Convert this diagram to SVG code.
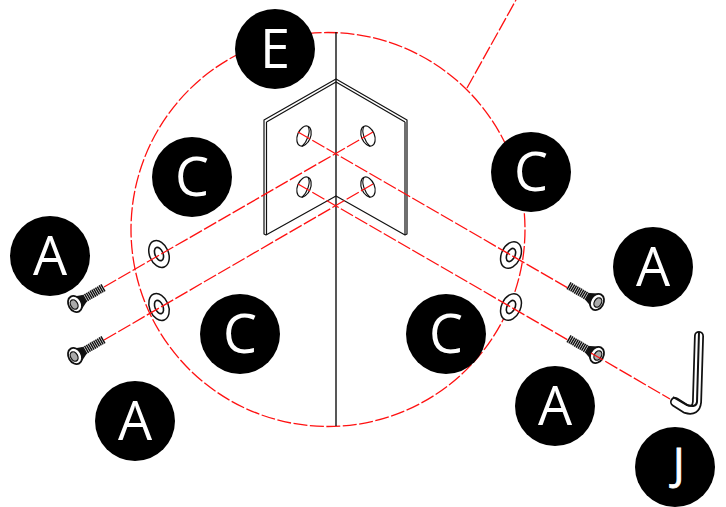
<svg xmlns="http://www.w3.org/2000/svg" width="726" height="507" viewBox="0 0 726 507">
<style>
.r{fill:none;stroke:#f11;stroke-width:1.300;stroke-dasharray:14 2.500}
.k{fill:none;stroke:#111;stroke-width:1.200;stroke-linejoin:round}
.b{fill:#000}
.t{fill:#fff;font-family:"Open Sans",sans-serif;font-size:54px;text-anchor:middle}
.j{font-size:43px;text-anchor:start;stroke:#fff;stroke-width:.8}
</style>
<defs>
<g id="screw">
<line x1="-33" y1="0" x2="-8" y2="0" stroke="#111" stroke-width="8" stroke-dasharray="1.500 .6"/>
<path d="M-11 -4 L-3 -8 L0 8 L-11 4Z" fill="#111"/>
<ellipse cx="0" cy="0" rx="6.500" ry="8.500" fill="#fff" stroke="#111" stroke-width="1.800"/>
<ellipse cx="1" cy="0" rx="3.500" ry="5" fill="#aaa" stroke="#111" stroke-width="1.300"/>
</g>
<g id="washer">
<ellipse rx="9.500" ry="14" fill="#fff" stroke="#111" stroke-width="1.500"/>
<ellipse rx="4" ry="7" fill="#fff" stroke="#111" stroke-width="1.600"/>
</g>
<g id="hole">
<ellipse rx="6.500" ry="10.500" fill="#fff" stroke="#111" stroke-width="1.200"/>
<path d="M0 -10.500 C5 -7 5 4 2 10.500" fill="none" stroke="#111" stroke-width="1.100"/>
</g>
</defs>
<g id="detail-circle">
<circle cx="328" cy="229.500" r="197" class="r" stroke-dasharray="12 2.500"/>
<line x1="467" y1="88" x2="516" y2="0" class="r"/>
<line x1="336" y1="32" x2="336" y2="426" stroke="#111" stroke-width="1.400"/>
</g>
<g id="bracket">
<path class="k" fill="#fff" d="M264 120 L336 79 L407 120 L407 234 L405 235 L336 196 L266 235 L264 234 Z"/>
<path class="k" d="M266.500 122 L336 82 L405 122 M266.500 122 V235 M405 122 V235"/>
<use href="#hole" transform="translate(304 136) rotate(22)"/>
<use href="#hole" transform="translate(304 187) rotate(22)"/>
<use href="#hole" transform="translate(368 136) rotate(-22) scale(-1 1)"/>
<use href="#hole" transform="translate(368 187) rotate(-22) scale(-1 1)"/>
</g>
<g id="washers">
<use href="#washer" transform="translate(159 254) rotate(-22)"/>
<use href="#washer" transform="translate(159 307) rotate(-22)"/>
<use href="#washer" transform="translate(511 255) rotate(25)"/>
<use href="#washer" transform="translate(511 307) rotate(25)"/>
</g>
<g id="screws">
<use href="#screw" transform="translate(75 304) rotate(150)"/>
<use href="#screw" transform="translate(75 356) rotate(150)"/>
<use href="#screw" transform="translate(597 302) rotate(30)"/>
<use href="#screw" transform="translate(597 355) rotate(30)"/>
</g>
<g id="connectors">
<line x1="104" y1="287" x2="373" y2="132" class="r"/>
<line x1="104" y1="340" x2="373" y2="184" class="r"/>
<line x1="298" y1="132" x2="568" y2="288" class="r"/>
<line x1="298" y1="184" x2="568" y2="340" class="r"/>
<line x1="591" y1="353" x2="670" y2="399" class="r"/>
</g>
<g id="hex-key">
<path d="M699 336 L697 402 Q696 412 686 409 L675 402" fill="none" stroke="#111" stroke-width="10" stroke-linecap="round" stroke-linejoin="round"/>
<path d="M699 336 L697 402 Q696 412 686 409 L675 402" fill="none" stroke="#fff" stroke-width="6.500" stroke-linecap="round"/>
<path d="M699 332 L697 402 Q696 408 687 405 L673 397" fill="none" stroke="#111" stroke-width="2"/>
</g>
<g id="label-E"><circle class="b" cx="275" cy="49" r="40"/><text class="t" x="275" y="68">E</text></g>
<g id="label-C1"><circle class="b" cx="192" cy="177" r="40"/><text class="t" x="192" y="196">C</text></g>
<g id="label-C2"><circle class="b" cx="531" cy="172" r="40"/><text class="t" x="531" y="191">C</text></g>
<g id="label-C3"><circle class="b" cx="240" cy="334" r="40"/><text class="t" x="240" y="353">C</text></g>
<g id="label-C4"><circle class="b" cx="446" cy="334" r="40"/><text class="t" x="446" y="353">C</text></g>
<g id="label-A1"><circle class="b" cx="50" cy="256" r="40"/><text class="t" x="50" y="275">A</text></g>
<g id="label-A2"><circle class="b" cx="653" cy="267" r="40"/><text class="t" x="653" y="286">A</text></g>
<g id="label-A3"><circle class="b" cx="135" cy="421" r="40"/><text class="t" x="135" y="440">A</text></g>
<g id="label-A4"><circle class="b" cx="555" cy="406" r="40"/><text class="t" x="555" y="425">A</text></g>
<g id="label-J"><circle class="b" cx="675" cy="467" r="40"/><text class="t j" x="673" y="479">J</text></g>
</svg>
